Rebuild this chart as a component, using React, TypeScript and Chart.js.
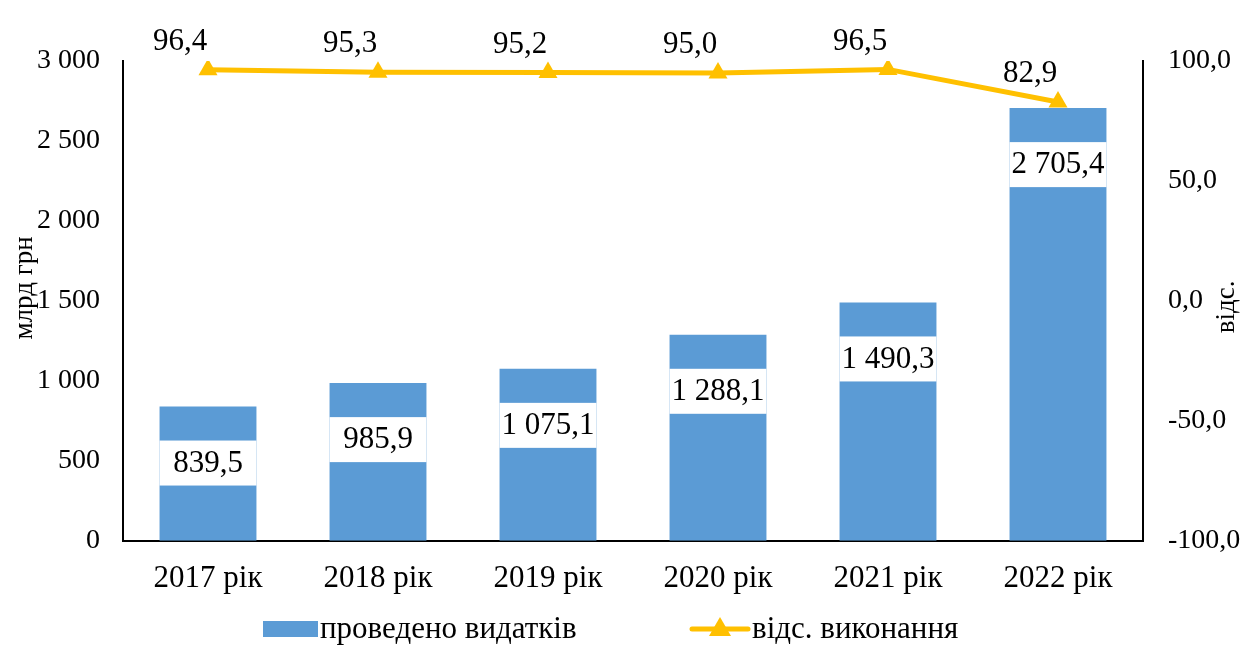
import React, { useEffect, useRef } from "react";
import { Chart, registerables } from "chart.js";

Chart.register(...registerables);

const categories = ["2017 рік", "2018 рік", "2019 рік", "2020 рік", "2021 рік", "2022 рік"];
const spending = [839.5, 985.9, 1075.1, 1288.1, 1490.3, 2705.4];
const execution = [96.4, 95.3, 95.2, 95.0, 96.5, 82.9];
const seriesNames = ["проведено видатків", "відс. виконання"];
const axisTitles = ["млрд грн", "відс."];

const FONT = '"Liberation Serif", "Times New Roman", serif';
const BLUE = "#5B9BD5";
const GOLD = "#FFC000";

function fmtNum(v: number, decimals: number): string {
  const s = v.toFixed(decimals);
  const [intPart, dec] = s.split(".");
  const neg = intPart.startsWith("-");
  const digits = neg ? intPart.slice(1) : intPart;
  const grouped = digits.replace(/\B(?=(\d{3})+(?!\d))/g, " ");
  return (neg ? "-" : "") + grouped + (dec !== undefined ? "," + dec : "");
}

const customDraw = {
  id: "customDraw",
  afterDatasetsDraw(chart: any) {
    const ctx = chart.ctx as CanvasRenderingContext2D;
    const barMeta = chart.getDatasetMeta(0);
    ctx.save();
    ctx.font = `31px ${FONT}`;
    ctx.textAlign = "center";
    ctx.textBaseline = "middle";
    barMeta.data.forEach((el: any, i: number) => {
      const w = el.width;
      const top = el.y + 34;
      ctx.fillStyle = "#ffffff";
      ctx.fillRect(el.x - w / 2, top, w, 45);
      ctx.fillStyle = "#000000";
      ctx.fillText(fmtNum(spending[i], 1), el.x, top + 23);
    });
    const lineMeta = chart.getDatasetMeta(1);
    lineMeta.data.forEach((el: any, i: number) => {
      ctx.fillStyle = "#000000";
      ctx.fillText(fmtNum(execution[i], 1), el.x - 28, el.y - 28);
    });
    ctx.restore();
  },
  afterDraw(chart: any) {
    const ctx = chart.ctx as CanvasRenderingContext2D;
    const area = chart.chartArea;
    ctx.save();
    ctx.fillStyle = "#000000";
    ctx.textAlign = "center";
    ctx.textBaseline = "middle";
    ctx.font = `27px ${FONT}`;
    const midY = (area.top + area.bottom) / 2;
    ctx.save();
    ctx.translate(25, midY - 13);
    ctx.rotate(-Math.PI / 2);
    ctx.fillText(axisTitles[0], 0, 0);
    ctx.restore();
    ctx.save();
    ctx.translate(1227, midY + 6);
    ctx.rotate(-Math.PI / 2);
    ctx.fillText(axisTitles[1], 0, 0);
    ctx.restore();

    const ly = 629;
    ctx.font = `31px ${FONT}`;
    ctx.textAlign = "left";
    ctx.fillStyle = BLUE;
    ctx.fillRect(263, ly - 8, 55, 16);
    ctx.fillStyle = "#000000";
    ctx.fillText(seriesNames[0], 320, ly + 1);
    ctx.strokeStyle = GOLD;
    ctx.lineWidth = 5;
    ctx.lineCap = "round";
    ctx.beginPath();
    ctx.moveTo(692, ly);
    ctx.lineTo(748, ly);
    ctx.stroke();
    ctx.fillStyle = GOLD;
    ctx.beginPath();
    ctx.moveTo(720, ly - 12);
    ctx.lineTo(731, ly + 7);
    ctx.lineTo(709, ly + 7);
    ctx.closePath();
    ctx.fill();
    ctx.fillStyle = "#000000";
    ctx.fillText(seriesNames[1], 752, ly + 1);
    ctx.restore();
  },
};

export default function App() {
  const ref = useRef<HTMLCanvasElement | null>(null);
  useEffect(() => {
    document.body.style.margin = "0";
    const canvas = ref.current;
    if (!canvas) return;
    const chart = new Chart(canvas, {
      type: "bar",
      data: {
        labels: categories,
        datasets: [
          {
            type: "bar",
            label: seriesNames[0],
            data: spending,
            backgroundColor: BLUE,
            yAxisID: "y",
            barPercentage: 0.57,
            categoryPercentage: 1,
            order: 2,
          },
          {
            type: "line",
            label: seriesNames[1],
            data: execution,
            borderColor: GOLD,
            backgroundColor: GOLD,
            borderWidth: 5,
            pointStyle: "triangle",
            pointRadius: 11,
            pointHoverRadius: 11,
            pointBorderWidth: 0,
            yAxisID: "y1",
            tension: 0,
            order: 1,
          } as any,
        ],
      },
      options: {
        responsive: false,
        animation: false,
        events: [],
        layout: { padding: { top: 61, bottom: 30, left: 0, right: 0 } },
        plugins: {
          legend: { display: false },
          tooltip: { enabled: false },
          title: { display: false },
        },
        scales: {
          x: {
            grid: { display: false, drawTicks: false },
            border: { display: true, color: "#000000", width: 2 },
            ticks: {
              color: "#000000",
              font: { family: FONT, size: 31 },
              padding: 19,
              maxRotation: 0,
            },
          },
          y: {
            position: "left",
            min: 0,
            max: 3000,
            grid: { display: false, drawTicks: false },
            border: { display: true, color: "#000000", width: 2 },
            ticks: {
              stepSize: 500,
              color: "#000000",
              font: { family: FONT, size: 28 },
              padding: 23,
              callback: (v: any) => fmtNum(Number(v), 0),
            },
            afterFit: (scale: any) => {
              scale.width = 123;
            },
          },
          y1: {
            position: "right",
            min: -100,
            max: 100,
            grid: { display: false, drawTicks: false },
            border: { display: true, color: "#000000", width: 2 },
            ticks: {
              stepSize: 50,
              color: "#000000",
              font: { family: FONT, size: 28 },
              padding: 25,
              callback: (v: any) => fmtNum(Number(v), 1),
            },
            afterFit: (scale: any) => {
              scale.width = 100;
            },
          },
        },
      },
      plugins: [customDraw],
    });
    return () => chart.destroy();
  }, []);
  return (
    <canvas
      ref={ref}
      width={1243}
      height={646}
      style={{ display: "block", width: "1243px", height: "646px" }}
    />
  );
}
